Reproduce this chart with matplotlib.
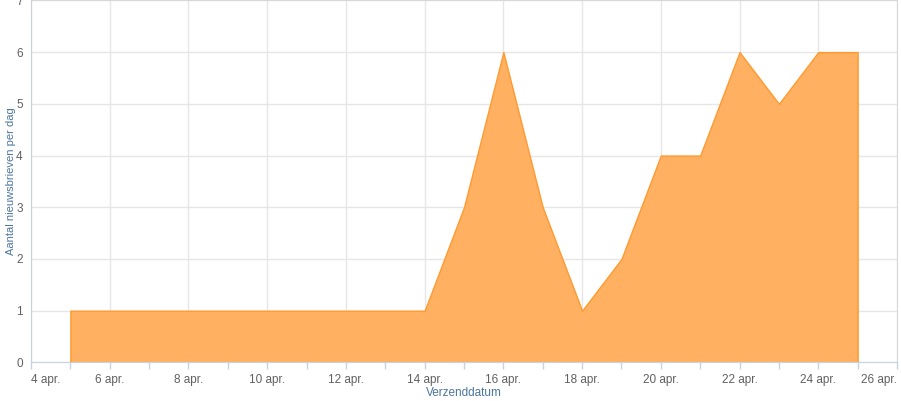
import datetime as dt
import matplotlib
matplotlib.use("Agg")
import matplotlib.pyplot as plt
import matplotlib.dates as mdates
from matplotlib.ticker import FuncFormatter, MultipleLocator

plt.rcParams['font.family'] = ['Liberation Sans', 'DejaVu Sans']

# data
dagen = [dt.date(2013, 4, d) for d in range(5, 26)]
aantal = [1, 1, 1, 1, 1, 1, 1, 1, 1, 1, 3, 6, 3, 1, 2, 4, 4, 6, 5, 6, 6]
maanden = ['jan.', 'feb.', 'mrt.', 'apr.', 'mei', 'jun.', 'jul.', 'aug.', 'sep.', 'okt.', 'nov.', 'dec.']

fig = plt.figure(figsize=(9.01, 4.01), dpi=100)
ax = fig.add_axes([31/901, (401-362.4)/401, (897-31)/901, 362/401])

ax.fill_between(dagen, aantal, 0, facecolor='#ffb061', edgecolor='#ff9a30', linewidth=1, zorder=2)

ax.set_xlim(dt.date(2013, 4, 4), dt.date(2013, 4, 26))
ax.set_ylim(0, 7)

ax.xaxis.set_major_locator(mdates.DayLocator(interval=2))
ax.xaxis.set_minor_locator(mdates.DayLocator())
ax.xaxis.set_major_formatter(FuncFormatter(
    lambda v, p: f"{mdates.num2date(v).day} {maanden[mdates.num2date(v).month-1]}"))
ax.yaxis.set_major_locator(MultipleLocator(1))

ax.grid(True, which='major', color='#e6e6e6', linewidth=1, zorder=0)
ax.set_axisbelow(True)

for s in ['top', 'right']:
    ax.spines[s].set_color('#d8d8d8')
ax.spines['left'].set_color('#c8d2dc')
ax.spines['bottom'].set_color('#c8d2dc')

ax.tick_params(axis='x', which='both', colors='#c8d2dc', labelcolor='#606060',
               labelsize=8.5, length=5, width=1, pad=3)
ax.tick_params(axis='y', length=0, labelcolor='#606060', labelsize=8.5, pad=6)

ax.set_xlabel('Verzenddatum', fontsize=8.5, color='#4d759e', labelpad=1)
ax.set_ylabel('Aantal nieuwsbrieven per dag', fontsize=8, color='#4d759e')
ax.yaxis.set_label_coords(-15/866, 0.5)

# first and last date label kept inside the figure, like the original
fig.canvas.draw()
labels = ax.get_xticklabels()
labels[0].set_ha('left')
labels[-1].set_ha('right')

fig.savefig('out.png', dpi=100)
